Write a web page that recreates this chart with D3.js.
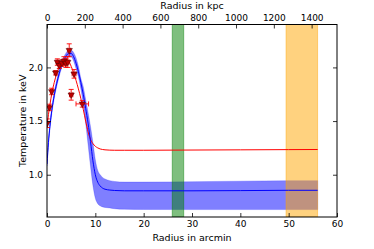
<!DOCTYPE html>
<html>
<head>
<meta charset="utf-8">
<script src="https://cdn.jsdelivr.net/npm/d3@7"></script>
<style>
  body { margin: 0; background: #fff; }
  svg { display: block; font-family: "DejaVu Sans", sans-serif; }
</style>
</head>
<body>
<div id="chart"></div>
<script>
const width = 374, height = 249;
const margin = {top: 24.5, right: 37, bottom: 32, left: 47};

// radius grid in arcmin for the model curves
const modelR = [0, 0.3, 0.6, 1, 1.5, 2, 2.5, 3, 3.5, 4, 4.5, 5, 5.5, 6, 6.5, 7, 7.5, 8, 8.5, 9, 9.5, 10, 10.5, 11, 11.5, 12, 13, 14, 16, 20, 30, 40, 50, 56];
const redModel = [1.45, 1.56, 1.65, 1.76, 1.86, 1.94, 2.0, 2.04, 2.07, 2.08, 2.06, 2.01, 1.95, 1.88, 1.80, 1.71, 1.61, 1.50, 1.40, 1.33, 1.29, 1.265, 1.25, 1.24, 1.235, 1.232, 1.229, 1.228, 1.228, 1.228, 1.23, 1.232, 1.234, 1.235];
const blueModel = [1.10, 1.30, 1.45, 1.60, 1.74, 1.85, 1.94, 2.02, 2.07, 2.11, 2.13, 2.13, 2.10, 2.04, 1.96, 1.86, 1.75, 1.62, 1.48, 1.31, 1.13, 1.00, 0.93, 0.895, 0.875, 0.865, 0.857, 0.853, 0.85, 0.85, 0.85, 0.852, 0.855, 0.855];
const blueLow = [1.08, 1.27, 1.42, 1.57, 1.71, 1.82, 1.91, 1.99, 2.04, 2.08, 2.10, 2.10, 2.06, 1.99, 1.91, 1.80, 1.66, 1.48, 1.28, 1.08, 0.90, 0.78, 0.73, 0.71, 0.70, 0.695, 0.69, 0.683, 0.678, 0.676, 0.675, 0.675, 0.675, 0.675];
const blueHigh = [1.12, 1.33, 1.48, 1.63, 1.77, 1.88, 1.97, 2.05, 2.10, 2.14, 2.16, 2.16, 2.14, 2.09, 2.01, 1.90, 1.82, 1.70, 1.58, 1.45, 1.30, 1.14, 1.04, 1.00, 0.975, 0.96, 0.945, 0.937, 0.932, 0.932, 0.935, 0.94, 0.945, 0.945];

// measured temperature profile
const obsR = [0.05, 0.48, 0.97, 1.79, 2.14, 2.55, 3.1, 3.5, 3.9, 4.3, 4.6, 5.0, 5.6, 7.3];
const obsT = [1.48, 1.627, 1.776, 1.95, 2.05, 2.02, 2.04, 2.06, 2.04, 2.05, 2.16, 1.745, 1.94, 1.66];
const obsTerr = [0.04, 0.03, 0.03, 0.02, 0.03, 0.03, 0.03, 0.04, 0.04, 0.05, 0.06, 0.05, 0.04, 0.03];
const obsRerr = [0.05, 0.2, 0.25, 0.25, 0.25, 0.25, 0.3, 0.3, 0.3, 0.3, 0.3, 0.35, 0.4, 1.3];

// shaded radial ranges (arcmin)
const bands = [
  {r0: 25.9, r1: 28.3, color: "green"},
  {r0: 49.45, r1: 56.0, color: "orange"}
];

const xTicks = [0, 10, 20, 30, 40, 50, 60];
const kpcTicks = [0, 200, 400, 600, 800, 1000, 1200, 1400];
const yTicks = [1.0, 1.5, 2.0];
const kpcPerArcmin = 25.57;

const svg = d3.select("#chart").append("svg")
  .attr("width", width).attr("height", height);

const x = d3.scaleLinear().domain([0, 60]).range([margin.left, width - margin.right]);
const xk = d3.scaleLinear().domain([0, 60 * kpcPerArcmin]).range([margin.left, width - margin.right]);
const y = d3.scaleLinear().domain([0.606, 2.4]).range([height - margin.bottom, margin.top]);

svg.append("clipPath").attr("id", "clip").append("rect")
  .attr("x", margin.left).attr("y", margin.top)
  .attr("width", width - margin.left - margin.right)
  .attr("height", height - margin.top - margin.bottom);

const plot = svg.append("g").attr("clip-path", "url(#clip)");

const model = modelR.map((r, i) => ({r, red: redModel[i], blue: blueModel[i], lo: blueLow[i], hi: blueHigh[i]}));

plot.append("path")
  .datum(model)
  .attr("fill", "blue").attr("fill-opacity", 0.5)
  .attr("stroke", "blue").attr("stroke-opacity", 0.25).attr("stroke-width", 0.8)
  .attr("d", d3.area().curve(d3.curveMonotoneX)
    .x(d => x(d.r)).y0(d => y(d.lo)).y1(d => y(d.hi)));

plot.selectAll("rect.band")
  .data(bands)
  .join("rect")
  .attr("class", "band")
  .attr("x", d => x(d.r0))
  .attr("width", d => x(d.r1) - x(d.r0))
  .attr("y", margin.top)
  .attr("height", height - margin.top - margin.bottom)
  .attr("fill", d => d.color).attr("fill-opacity", 0.5)
  .attr("stroke", d => d.color).attr("stroke-opacity", 0.5).attr("stroke-width", 0.8);

plot.append("path")
  .datum(model)
  .attr("fill", "none").attr("stroke", "red").attr("stroke-width", 1)
  .attr("d", d3.line().curve(d3.curveMonotoneX).x(d => x(d.r)).y(d => y(d.red)));

plot.append("path")
  .datum(model)
  .attr("fill", "none").attr("stroke", "blue").attr("stroke-width", 1)
  .attr("d", d3.line().curve(d3.curveMonotoneX).x(d => x(d.r)).y(d => y(d.blue)));

// error bars
const obs = obsR.map((r, i) => ({r, t: obsT[i], te: obsTerr[i], re: obsRerr[i]}));
const cap = 2.5;
const eb = plot.append("g").attr("stroke", "red").attr("stroke-width", 0.9);
obs.forEach(d => {
  const cx = x(d.r), cy = y(d.t);
  const ya = y(d.t + d.te), yb = y(d.t - d.te);
  const xa = x(d.r - d.re), xb = x(d.r + d.re);
  eb.append("line").attr("x1", cx).attr("x2", cx).attr("y1", ya).attr("y2", yb);
  eb.append("line").attr("x1", cx - cap).attr("x2", cx + cap).attr("y1", ya).attr("y2", ya);
  eb.append("line").attr("x1", cx - cap).attr("x2", cx + cap).attr("y1", yb).attr("y2", yb);
  eb.append("line").attr("x1", xa).attr("x2", xb).attr("y1", cy).attr("y2", cy);
  eb.append("line").attr("x1", xa).attr("x2", xa).attr("y1", cy - cap).attr("y2", cy + cap);
  eb.append("line").attr("x1", xb).attr("x2", xb).attr("y1", cy - cap).attr("y2", cy + cap);
});

plot.append("g").selectAll("path")
  .data(obs)
  .join("path")
  .attr("transform", d => `translate(${x(d.r)},${y(d.t)}) rotate(180)`)
  .attr("d", d3.symbol(d3.symbolTriangle, 17))
  .attr("fill", "#c00000").attr("stroke", "#400").attr("stroke-width", 0.5);

// frame
svg.append("rect")
  .attr("x", margin.left).attr("y", margin.top)
  .attr("width", width - margin.left - margin.right)
  .attr("height", height - margin.top - margin.bottom)
  .attr("fill", "none").attr("stroke", "black").attr("stroke-width", 1);

const fs = 9;
function styleAxis(g) {
  g.select(".domain").remove();
  g.selectAll(".tick line").attr("stroke", "#000").attr("stroke-width", 0.8);
  g.selectAll(".tick text").attr("font-size", fs).attr("fill", "#000")
    .attr("font-family", "DejaVu Sans, sans-serif");
}

svg.append("g")
  .attr("transform", `translate(0,${height - margin.bottom})`)
  .call(d3.axisBottom(x).tickValues(xTicks).tickFormat(d3.format("d")).tickSizeInner(-4).tickPadding(4))
  .call(styleAxis);

svg.append("g")
  .attr("transform", `translate(0,${margin.top})`)
  .call(d3.axisTop(xk).tickValues(kpcTicks).tickFormat(d3.format("d")).tickSizeInner(-4).tickPadding(4))
  .call(styleAxis);

svg.append("g")
  .attr("transform", `translate(${margin.left},0)`)
  .call(d3.axisLeft(y).tickValues(yTicks).tickFormat(d3.format(".1f")).tickSizeInner(-4).tickPadding(4))
  .call(styleAxis);

svg.append("g")
  .attr("transform", `translate(${width - margin.right},0)`)
  .call(d3.axisRight(y).tickValues(yTicks).tickSizeInner(-4).tickFormat(""))
  .call(styleAxis);

svg.append("text")
  .attr("x", (margin.left + width - margin.right) / 2).attr("y", 241)
  .attr("text-anchor", "middle").attr("font-size", 9.5).text("Radius in arcmin");

svg.append("text")
  .attr("x", (margin.left + width - margin.right) / 2).attr("y", 9)
  .attr("text-anchor", "middle").attr("font-size", 9.5).text("Radius in kpc");

svg.append("text")
  .attr("transform", `translate(25.5,${(margin.top + height - margin.bottom) / 2}) rotate(-90)`)
  .attr("text-anchor", "middle").attr("font-size", 9.5).text("Temperature in keV");
</script>
</body>
</html>
